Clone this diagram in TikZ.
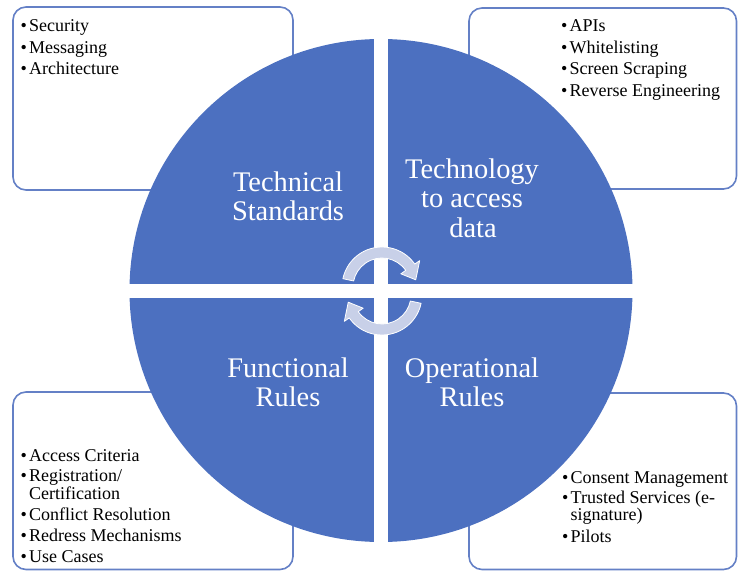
\documentclass[tikz,border=0pt]{standalone}
\usepackage{fontspec}
\setmainfont{Liberation Serif}
\usetikzlibrary{calc}
\definecolor{circblue}{RGB}{76,112,192}
\definecolor{boxblue}{RGB}{100,128,198}
\definecolor{arrowfill}{RGB}{200,208,232}
\tikzset{
  listbox/.style={draw=boxblue, line width=1.6pt, fill=white, rounded corners=13pt},
  item/.style={anchor=base west, inner sep=0pt, font=\fontsize{18}{18}\selectfont, text=black},
  qlabel/.style={anchor=base, inner sep=0pt, font=\fontsize{28.4}{29.5}\selectfont, text=white},
  cyc/.style={fill=arrowfill, draw=white, line width=0.8pt, line join=round}
}
\newcommand{\bul}{\makebox[8.5pt][l]{•}}
\begin{document}
\begin{tikzpicture}[x=1pt,y=1pt]
\useasboundingbox (0,0) rectangle (738,571);
% boxes
\draw[listbox] (13,381) rectangle (293,564);
\draw[listbox] (469,382) rectangle (736.5,563);
\draw[listbox] (13,1.5) rectangle (293,179);
\draw[listbox] (469,1.5) rectangle (736.5,178);
% circle
\coordinate (cc) at (381,280.5);
\fill[circblue] (cc) circle[radius=251.5];
\fill[white] ($(cc)+(-7,-253)$) rectangle ($(cc)+(7,253)$);
\fill[white] ($(cc)+(-253,-7)$) rectangle ($(cc)+(253,7)$);
% cycle arrows
\coordinate (uc) at (382,284);
\coordinate (lc) at (382,276);
\path[cyc] ($(uc)+(168:40)$) arc[start angle=168, end angle=35, radius=40]
  -- ($(uc)+(35:46)$) -- ($(uc)+(12:34.5)$) -- ($(uc)+(35:23)$)
  -- ($(uc)+(35:29)$) arc[start angle=35, end angle=168, radius=29] -- cycle;
\path[cyc] ($(lc)+(-12:40)$) arc[start angle=-12, end angle=-145, radius=40]
  -- ($(lc)+(-145:46)$) -- ($(lc)+(-168:34.5)$) -- ($(lc)+(-145:23)$)
  -- ($(lc)+(-145:29)$) arc[start angle=-145, end angle=-12, radius=29] -- cycle;
% quadrant labels
\node[qlabel] (ts1) at (288,379) {Technical};
\node[qlabel] (ts2) at (288,350) {Standards};
\node[qlabel] (ta1) at (472,392) {Technology};
\node[qlabel] (ta2) at (472,363) {to access};
\node[qlabel] (ta3) at (473,334) {data};
\node[qlabel] (fr1) at (288,194) {Functional};
\node[qlabel] (fr2) at (288,165) {Rules};
\node[qlabel] (or1) at (472,194) {Operational};
\node[qlabel] (or2) at (472,165) {Rules};
% top-left list
\node[item] (a1) at (20.5,539) {\bul Security};
\node[item] (a2) at (20.5,517.5) {\bul Messaging};
\node[item] (a3) at (20.5,496) {\bul Architecture};
% top-right list
\node[item] (b1) at (561,539) {\bul APIs};
\node[item] (b2) at (561,517.5) {\bul Whitelisting};
\node[item] (b3) at (561,496) {\bul Screen Scraping};
\node[item] (b4) at (561,474.5) {\bul Reverse Engineering};
% bottom-left list
\node[item] (c1) at (20.5,110) {\bul Access Criteria};
\node[item] (c2) at (20.5,89.5) {\bul Registration/};
\node[item] (c3) at (20.5,71.5) {\hspace*{8.5pt}Certification};
\node[item] (c4) at (20.5,51) {\bul Conflict Resolution};
\node[item] (c5) at (20.5,30) {\bul Redress Mechanisms};
\node[item] (c6) at (20.5,9) {\bul Use Cases};
% bottom-right list
\node[item] (d1) at (562,88) {\bul Consent Management};
\node[item] (d2) at (562,68) {\bul Trusted Services (e-};
\node[item] (d3) at (562,50.5) {\hspace*{8.5pt}signature)};
\node[item] (d4) at (562,29) {\bul Pilots};
\end{tikzpicture}
\end{document}
